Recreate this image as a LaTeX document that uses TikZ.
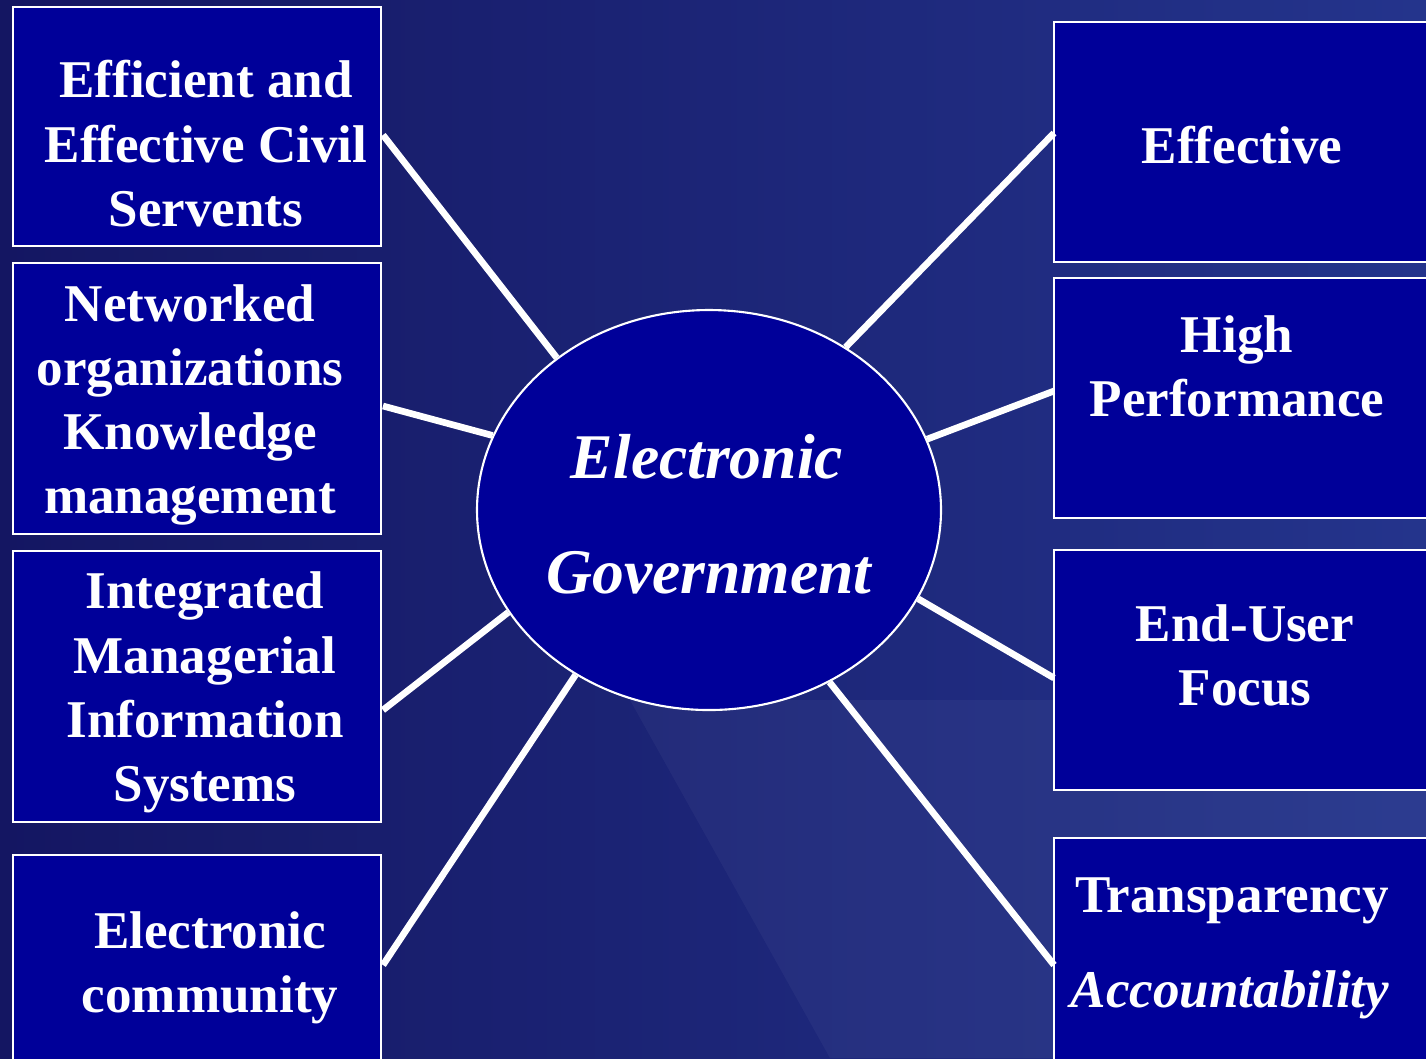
\documentclass[tikz,border=0pt]{standalone}
\usepackage{fontspec}
\setmainfont{Liberation Serif}
\usetikzlibrary{shapes.geometric,calc}
\definecolor{boxblue}{RGB}{0,0,153}
\definecolor{bgdark}{RGB}{20,22,98}
\definecolor{bglight}{RGB}{36,52,140}
\begin{document}
\begin{tikzpicture}[x=1cm,y=1cm,
  box/.style={draw=white, line width=0.6pt, fill=boxblue, rectangle, inner sep=0pt},
  hub/.style={draw=white, line width=0.6pt, fill=boxblue, ellipse, inner sep=0pt,
              minimum width=4.64cm, minimum height=4.0cm},
  txt/.style={text=white, font=\fontsize{15.1}{18}\selectfont\bfseries, anchor=base, inner sep=0pt},
  hubtxt/.style={text=white, font=\fontsize{18.1}{22}\selectfont\bfseries\itshape, anchor=base, inner sep=0pt},
  spoke/.style={white, line width=1.9pt}]
\useasboundingbox (0,0) rectangle (14.26,-10.58);
\clip (0,0) rectangle (14.26,-10.58);
\fill[left color=bgdark, right color=bglight] (0,0) rectangle (14.26,-10.58);
\fill[white, opacity=0.04] (6.3,-7.0) -- (14.26,-7.0) -- (14.26,-10.58) -- (8.3,-10.58) -- cycle;

% boxes
\node[box, minimum width=3.68cm, minimum height=2.39cm] (L1) at (1.97,-1.265) {};
\node[box, minimum width=3.68cm, minimum height=2.71cm] (L2) at (1.97,-3.985) {};
\node[box, minimum width=3.68cm, minimum height=2.71cm] (L3) at (1.97,-6.865) {};
\node[box, minimum width=3.68cm, minimum height=2.60cm] (L4) at (1.97,-9.85) {};
\node[box, minimum width=3.86cm, minimum height=2.40cm] (R1) at (12.47,-1.42) {};
\node[box, minimum width=3.86cm, minimum height=2.40cm] (R2) at (12.47,-3.98) {};
\node[box, minimum width=3.86cm, minimum height=2.40cm] (R3) at (12.47,-6.70) {};
\node[box, minimum width=3.86cm, minimum height=2.62cm] (R4) at (12.47,-9.69) {};

% hub
\node[hub] (E) at (7.09,-5.10) {};

% spoke ends on the boxes
\coordinate (a1) at (3.83,-1.35);
\coordinate (a2) at (3.83,-4.06);
\coordinate (a3) at (3.83,-7.10);
\coordinate (a4) at (3.83,-9.65);
\coordinate (b1) at (10.54,-1.33);
\coordinate (b2) at (10.54,-3.91);
\coordinate (b3) at (10.54,-6.78);
\coordinate (b4) at (10.54,-9.65);

\draw[spoke] (a1) -- (E.135);
\draw[spoke] (a2) -- (E.161.6);
\draw[spoke] (a3) -- (E.207.8);
\draw[spoke] (a4) -- (E.231.5);
\draw[spoke] (b1) -- (E.50.8);
\draw[spoke] (b2) -- (E.18.1);
\draw[spoke] (b3) -- (E.337.5);
\draw[spoke] (b4) -- (E.305.7);

% texts
\node[txt] (L1a) at (2.06,-0.97) {Efficient and};
\node[txt] (L1b) at (2.06,-1.62) {Effective Civil};
\node[txt] (L1c) at (2.06,-2.26) {Servents};

\node[txt] (L2a) at (1.90,-3.21) {Networked};
\node[txt] (L2b) at (1.90,-3.85) {organizations};
\node[txt] (L2c) at (1.90,-4.49) {Knowledge};
\node[txt] (L2d) at (1.90,-5.13) {management};

\node[txt] (L3a) at (2.05,-6.08) {Integrated};
\node[txt] (L3b) at (2.05,-6.73) {Managerial};
\node[txt] (L3c) at (2.05,-7.37) {Information};
\node[txt] (L3d) at (2.05,-8.01) {Systems};

\node[txt] (L4a) at (2.10,-9.48) {Electronic};
\node[txt] (L4b) at (2.10,-10.12) {community};

\node[txt] (R1a) at (12.42,-1.63) {Effective};

\node[txt] (R2a) at (12.37,-3.52) {High};
\node[txt] (R2b) at (12.37,-4.16) {Performance};

\node[txt] (R3a) at (12.45,-6.41) {End-User};
\node[txt] (R3b) at (12.45,-7.05) {Focus};

\node[txt] (R4a) at (12.32,-9.12) {Transparency};
\node[txt, font=\fontsize{15.1}{18}\selectfont\bfseries\itshape] (R4b) at (12.30,-10.07) {Accountability};

\node[hubtxt] (Ea) at (7.07,-4.78) {Electronic};
\node[hubtxt] (Eb) at (7.09,-5.93) {Government};
\end{tikzpicture}
\end{document}
